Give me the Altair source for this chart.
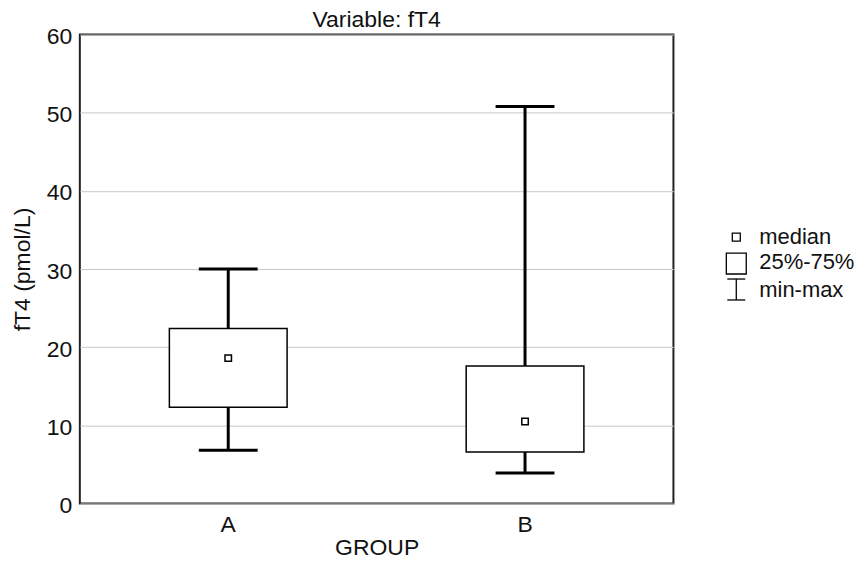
import altair as alt
import pandas as pd

groups = ["A", "B"]
mins = [6.8, 3.9]
q1s = [12.3, 6.6]
medians = [18.6, 10.5]
q3s = [22.4, 17.6]
maxs = [30.0, 50.8]

legend_labels = ["median", "25%-75%", "min-max"]
y_ticks = [0, 10, 20, 30, 40, 50, 60]

df = pd.DataFrame({"group": groups, "min": mins, "q1": q1s, "median": medians,
                   "q3": q3s, "max": maxs})

FONT = "Liberation Sans"
FS = 23

x_enc = alt.X("group:N", scale=alt.Scale(domain=groups, paddingInner=0, paddingOuter=0),
              axis=alt.Axis(title="GROUP", labelAngle=0, tickSize=0, labelPadding=10,
                            domain=False, grid=False, titleY=51, titleBaseline="alphabetic"))
y_scale = alt.Scale(domain=[0, 60], nice=False)
y_axis = alt.Axis(title="fT4 (pmol/L)", values=y_ticks, tickSize=0, labelPadding=8,
                  domain=False, grid=True, gridColor="#c8c8c8", gridWidth=1,
                  labelOffset=2, titleX=-57, titleY=235, titleAngle=-90,
                  titleBaseline="middle", titleAnchor="middle")

base = alt.Chart(df)

lower = base.mark_rule(color="black", strokeWidth=3).encode(
    x=x_enc, y=alt.Y("min:Q", scale=y_scale, axis=y_axis), y2="q1:Q")
upper = base.mark_rule(color="black", strokeWidth=3).encode(
    x=x_enc, y=alt.Y("q3:Q", scale=y_scale, axis=y_axis), y2="max:Q")
box = base.mark_bar(size=118, fill="white", stroke="black", strokeWidth=1.5).encode(
    x=x_enc, y=alt.Y("q1:Q", scale=y_scale, axis=y_axis), y2="q3:Q")
cap_lo = base.mark_tick(size=59, thickness=3, color="black", orient="horizontal", opacity=1).encode(
    x=x_enc, y=alt.Y("min:Q", scale=y_scale, axis=y_axis))
cap_hi = base.mark_tick(size=59, thickness=3, color="black", orient="horizontal", opacity=1).encode(
    x=x_enc, y=alt.Y("max:Q", scale=y_scale, axis=y_axis))
med = base.mark_point(shape="square", size=42, filled=True, fill="white", stroke="black",
                      strokeWidth=1.5, opacity=1).encode(
    x=x_enc, y=alt.Y("median:Q", scale=y_scale, axis=y_axis))

# legend (annotation outside the plot area)
def one(label):
    return alt.Chart(pd.DataFrame({"label": [label]}))

leg_sq = one(legend_labels[0]).mark_point(shape="square", size=64, filled=True, fill="white",
                                          stroke="black", strokeWidth=1.3, opacity=1).encode(
    x=alt.value(658), y=alt.value(203))
leg_box = one(legend_labels[1]).mark_rect(fill="white", stroke="black", strokeWidth=1.3).encode(
    x=alt.value(648), x2=alt.value(668), y=alt.value(219), y2=alt.value(240))
leg_bar = one(legend_labels[2]).mark_rule(color="black", strokeWidth=1.3).encode(
    x=alt.value(658), y=alt.value(245), y2=alt.value(266))
leg_cap1 = one(legend_labels[2]).mark_rule(color="black", strokeWidth=1.3).encode(
    x=alt.value(649), x2=alt.value(667), y=alt.value(245))
leg_cap2 = one(legend_labels[2]).mark_rule(color="black", strokeWidth=1.3).encode(
    x=alt.value(649), x2=alt.value(667), y=alt.value(266))
leg_texts = [
    one(lab).mark_text(align="left", baseline="middle", font=FONT, fontSize=22, color="#111").encode(
        text="label:N", x=alt.value(681), y=alt.value(yy))
    for lab, yy in zip(legend_labels, [203, 228, 256])
]

chart = alt.layer(lower, upper, box, cap_lo, cap_hi, med, leg_sq, leg_box, leg_bar,
                  leg_cap1, leg_cap2, *leg_texts).properties(
    width=595, height=470,
    title=alt.TitleParams("Variable: fT4", font=FONT, fontSize=23, fontWeight="normal",
                          anchor="middle", baseline="alphabetic", offset=7, dy=31, color="#111"),
    autosize=alt.AutoSizeParams(type="none"),
    padding={"left": 72, "top": 26, "right": 184, "bottom": 54},
).configure_view(stroke="#222", strokeWidth=2).configure_axis(
    labelFont=FONT, titleFont=FONT, labelFontSize=FS, titleFontSize=FS,
    labelColor="#111", titleColor="#111", titleFontWeight="normal"
)

chart.save("out.html", embed_options={"renderer": "svg", "actions": False})
